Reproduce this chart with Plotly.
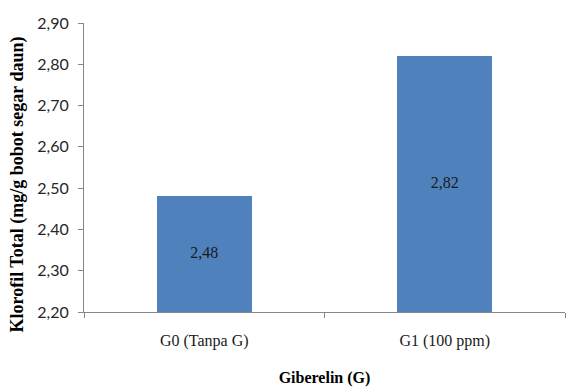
import plotly.graph_objects as go

categories = ["G0 (Tanpa G)", "G1 (100 ppm)"]
klorofil = [2.48, 2.82]
y_ticks = [2.20, 2.30, 2.40, 2.50, 2.60, 2.70, 2.80, 2.90]
y_min, y_max = 2.20, 2.90

serif = "Liberation Serif, Times New Roman, serif"
sans = "Lato, Open Sans, sans-serif"
axis_gray = "#878787"

fig = go.Figure()
fig.add_trace(
    go.Bar(
        x=categories,
        y=klorofil,
        marker=dict(color="#4F81BD", line=dict(width=0)),
        width=0.395,
        hoverinfo="x+y",
    )
)
# value labels centred in the visible part of each bar
fig.add_trace(
    go.Scatter(
        x=categories,
        y=[(v + y_min) / 2 for v in klorofil],
        mode="text",
        text=[f"{v:.2f}".replace(".", ",") for v in klorofil],
        textposition="middle center",
        textfont=dict(family=serif, size=16, color="#1a1a1a"),
        hoverinfo="skip",
    )
)

fig.update_layout(
    width=566,
    height=387,
    margin=dict(l=84, r=1, t=23, b=75),
    paper_bgcolor="white",
    plot_bgcolor="white",
    separators=", ",
    showlegend=False,
    bargap=0,
    annotations=[
        dict(
            text="<b>Klorofil Total (mg/g bobot segar daun)</b>",
            textangle=-90,
            xref="paper",
            yref="paper",
            x=-0.138,
            y=0.44,
            xanchor="center",
            yanchor="middle",
            showarrow=False,
            font=dict(family=serif, size=18, color="black"),
        )
    ],
)

fig.update_yaxes(
    range=[y_min, y_max],
    tickvals=y_ticks,
    tickformat=".2f",
    showgrid=False,
    zeroline=False,
    showline=True,
    linecolor=axis_gray,
    linewidth=1,
    ticks="outside",
    ticklen=5,
    tickcolor=axis_gray,
    ticklabelstandoff=6,
    tickfont=dict(family=sans, size=16, color="#262626"),
    automargin=False,
)

fig.update_xaxes(
    showgrid=False,
    showline=True,
    linecolor=axis_gray,
    linewidth=1,
    ticks="outside",
    ticklen=5,
    tickcolor=axis_gray,
    tickson="boundaries",
    ticklabelstandoff=14,
    tickfont=dict(family=serif, size=16, color="#1a1a1a"),
    title=dict(
        text="Giberelin (G)",
        font=dict(family=serif, size=16, color="black", weight="bold"),
        standoff=25,
    ),
    automargin=False,
)

fig.write_html("out.html")
